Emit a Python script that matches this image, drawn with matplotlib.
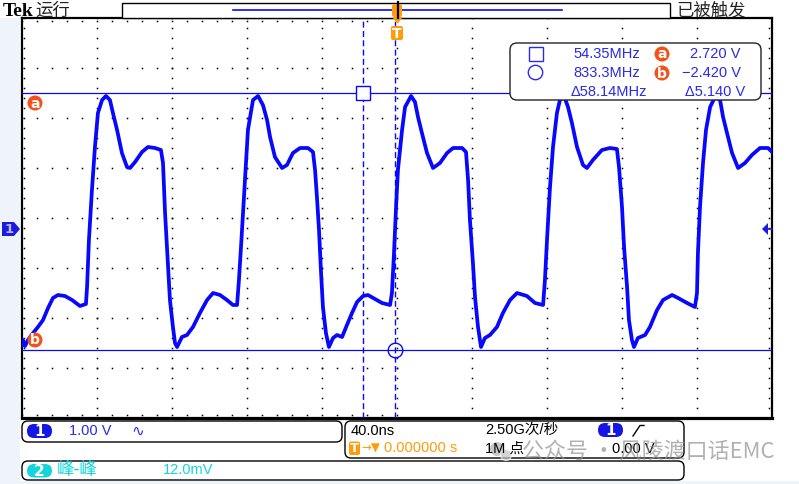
import matplotlib.pyplot as plt
from matplotlib.patches import FancyBboxPatch, Rectangle, Circle, Polygon

plt.rcParams['font.family'] = ['DejaVu Sans', 'Noto Sans CJK SC']

# waveform: time in ns (trigger at 0), level in volts
time_ns = [-200.0, -199.5, -198.4, -196.8, -194.1, -191.5, -188.8, -186.1, -183.5, -180.8,
           -177.1, -173.3, -169.1, -165.9, -165.3, -164.3, -162.7, -161.1, -159.5, -157.3,
           -155.2, -153.1, -151.5, -149.3, -146.7, -144.0, -142.4, -139.7, -136.0, -132.8,
           -129.1, -125.9, -124.8, -123.7, -122.1, -121.1, -119.5, -118.4, -117.3, -114.7,
           -112.0, -108.8, -105.1, -101.3, -98.1, -94.4, -90.7, -87.5, -85.3, -84.3,
           -83.2, -81.1, -79.5, -76.8, -74.1, -71.5, -69.3, -67.7, -65.1, -61.3,
           -58.7, -55.5, -51.7, -47.5, -44.8, -43.7, -42.7, -41.6, -40.5, -39.5,
           -37.9, -36.3, -34.1, -32.0, -29.3, -26.7, -24.0, -21.3, -18.1, -15.5,
           -11.7, -8.0, -3.7, -2.7, -1.6, -0.5, 0.5, 2.7, 4.3, 7.5,
           9.6, 11.2, 13.3, 16.0, 19.2, 22.9, 26.7, 29.9, 34.7, 36.8,
           37.9, 38.9, 40.5, 41.6, 43.2, 44.8, 46.9, 49.6, 53.3, 56.5,
           60.3, 64.0, 69.3, 73.6, 77.9, 78.9, 80.0, 81.6, 83.2, 85.3,
           86.9, 89.1, 91.2, 93.3, 96.0, 99.2, 101.3, 104.5, 109.3, 113.6,
           117.3, 118.4, 120.0, 121.1, 122.7, 123.7, 125.3, 126.4, 128.5, 132.3,
           134.9, 138.7, 141.9, 146.7, 149.9, 154.7, 158.9, 160.0, 160.5, 161.6,
           163.2, 164.8, 167.0, 169.6, 172.3, 173.9, 176.0, 178.7, 181.9, 185.6,
           189.3, 193.6, 197.9, 200.0]
volts = [-2.32, -2.22, -2.34, -2.22, -2.08, -1.96, -1.82, -1.58, -1.38, -1.32,
         -1.34, -1.42, -1.54, -1.50, -1.16, -0.22, 0.78, 1.64, 2.32, 2.58,
         2.66, 2.58, 2.32, 1.98, 1.52, 1.24, 1.22, 1.34, 1.54, 1.64,
         1.62, 1.58, 1.32, 0.32, -0.76, -1.42, -1.96, -2.28, -2.36, -2.16,
         -2.12, -1.96, -1.68, -1.42, -1.28, -1.32, -1.42, -1.52, -1.52, -1.02,
         -0.36, 0.98, 1.98, 2.58, 2.66, 2.48, 2.18, 1.84, 1.44, 1.22,
         1.28, 1.52, 1.62, 1.62, 1.54, 1.18, 0.64, -0.02, -0.88, -1.56,
         -2.08, -2.36, -2.18, -2.12, -2.16, -1.92, -1.68, -1.46, -1.34, -1.32,
         -1.40, -1.48, -1.52, -1.28, -0.48, 0.44, 1.18, 1.98, 2.44, 2.66,
         2.54, 2.24, 1.92, 1.52, 1.22, 1.32, 1.52, 1.62, 1.62, 1.54,
         0.98, 0.18, -0.68, -1.36, -1.96, -2.36, -2.18, -2.12, -1.96, -1.68,
         -1.42, -1.28, -1.34, -1.48, -1.52, -1.02, -0.22, 0.84, 1.64, 2.32,
         2.58, 2.66, 2.44, 2.12, 1.64, 1.28, 1.22, 1.38, 1.58, 1.62,
         1.60, 1.24, 0.44, -0.36, -1.16, -1.82, -2.22, -2.36, -2.18, -2.12,
         -1.96, -1.62, -1.42, -1.32, -1.38, -1.48, -1.56, -1.28, -0.48, 0.44,
         1.32, 1.98, 2.44, 2.64, 2.58, 2.24, 1.92, 1.52, 1.22, 1.32,
         1.48, 1.62, 1.62, 1.54]

# cursors
cursor_a = 2.72
cursor_b = -2.42
cursor_sq = -18.4
cursor_ci = -1.2

# screen settings
ns_div = 40.0
v_div = 1.0
offset_div = -0.22   # channel 1 ground marker sits 0.22 div below centre

meas_freq = ['54.35MHz', '833.3MHz', 'Δ58.14MHz']
meas_volt = ['2.720 V', '−2.420 V', 'Δ5.140 V']

BLUE = '#0808ff'
TXT_BLUE = '#2a2ae8'
CYAN = '#12d6dc'
ORANGE = '#ff9c0a'
RED_O = '#f2521a'
NARROW = ['Liberation Sans', 'DejaVu Sans', 'Noto Sans CJK SC']
CJK = ['Noto Sans CJK SC', 'DejaVu Sans']

W, H = 799, 484


def px_rect(x0, y0, x1, y1):
    return [x0 / W, 1 - y1 / H, (x1 - x0) / W, (y1 - y0) / H]


fig = plt.figure(figsize=(W / 100, H / 100), dpi=100)
fig.patch.set_facecolor('white')

bg = fig.add_axes([0, 0, 1, 1], zorder=0)
bg.set_xlim(0, W)
bg.set_ylim(H, 0)
bg.axis('off')
bg.add_patch(Rectangle((0, 18), 20, H - 18, fc='#eff4fa', ec='none'))
bg.add_patch(Rectangle((0, 481), W, 3, fc='#eff4fa', ec='none'))

# ---- graticule / waveform ----
ax = fig.add_axes(px_rect(22, 18, 772, 418), zorder=1)
xmin, xmax = -5 * ns_div, 5 * ns_div
ymin = (-4 - offset_div) * v_div
ymax = (4 - offset_div) * v_div
ax.set_xlim(xmin, xmax)
ax.set_ylim(ymin, ymax)
ax.set_xticks([])
ax.set_yticks([])
for s in ax.spines.values():
    s.set_linewidth(1.6)
ax.spines['bottom'].set_linewidth(2.3)

sub_x = ns_div / 5
sub_y = v_div / 5
xs_sub = [xmin + i * sub_x for i in range(26)]
ys_sub = [ymin + j * sub_y for j in range(41)]
for k in range(1, 10):
    gx = xmin + k * ns_div
    ax.plot([gx] * len(ys_sub), ys_sub, ls='none', marker='s', ms=1.1, mew=0, color='black')
for k in range(1, 8):
    gy = ymin + k * v_div
    ax.plot(xs_sub, [gy] * len(xs_sub), ls='none', marker='s', ms=1.1, mew=0, color='black')
# border ticks
ax.plot(xs_sub, [ymax - 0.06] * len(xs_sub), ls='none', marker='s', ms=1.1, mew=0, color='black')
ax.plot(xs_sub, [ymin + 0.06] * len(xs_sub), ls='none', marker='s', ms=1.1, mew=0, color='black')
ax.plot([xmin + 1.2] * len(ys_sub), ys_sub, ls='none', marker='s', ms=1.1, mew=0, color='black')
ax.plot([xmax - 1.5] * len(ys_sub), ys_sub, ls='none', marker='s', ms=1.1, mew=0, color='black')

ax.plot(time_ns, volts, color=BLUE, lw=2.7, solid_joinstyle='round', zorder=4)

ax.axhline(cursor_a, color=BLUE, lw=0.9, zorder=3)
ax.axhline(cursor_b, color=BLUE, lw=0.9, zorder=3)
ax.axvline(cursor_sq, color=BLUE, lw=1.0, dashes=(4.3, 2.4), zorder=3)
ax.axvline(cursor_ci, color=BLUE, lw=1.0, dashes=(4.3, 2.4), zorder=3)
ax.plot([cursor_sq], [cursor_a], marker='s', ms=10.5, mfc='white', mec=BLUE, mew=1.0, zorder=5)
ax.plot([cursor_ci], [cursor_b], marker='o', ms=10.5, mfc='none', mec=BLUE, mew=1.0, zorder=5)

# ---- foreground annotations in pixel space ----
fg = fig.add_axes([0, 0, 1, 1], zorder=2)
fg.set_xlim(0, W)
fg.set_ylim(H, 0)
fg.axis('off')
fg.patch.set_alpha(0)


def badge(x, y, letter, r=7.5):
    fg.add_patch(Circle((x, y), r, fc=RED_O, ec='none'))
    fg.text(x, y + 0.5, letter, color='white', ha='center', va='center',
            fontsize=10, fontweight='bold')


def pill(x, y, w, h, color, label):
    fg.add_patch(FancyBboxPatch((x, y), w, h, boxstyle='round,pad=0,rounding_size=7',
                                fc=color, ec='none'))
    fg.text(x + w / 2, y + h / 2 + 0.5, label, color='white', ha='center', va='center',
            fontsize=11, fontweight='bold')


badge(35, 103, 'a')
badge(35, 340, 'b')

# header
fg.text(3, 11, 'Tek', family=['Liberation Serif', 'DejaVu Serif'], fontweight='bold',
        fontsize=14, va='center', ha='left', color='black')
fg.text(35, 10.5, '运行', family=CJK, fontsize=12.5, va='center', ha='left', color='#222222')
fg.text(676, 10.5, '已被触发', family=CJK, fontsize=12.5, va='center', ha='left', color='#222222')
fg.add_patch(Rectangle((122, 3), 548, 14.5, fc='white', ec='black', lw=1.0))
fg.plot([233, 562], [9.5, 9.5], color=BLUE, lw=1.2)
fg.add_patch(FancyBboxPatch((392, 4), 10, 13, boxstyle='round,pad=0,rounding_size=2.5',
                            fc=ORANGE, ec='none', zorder=3))
fg.plot([397.5, 397.5], [2, 18], color='black', lw=1.6, zorder=4)
fg.add_patch(Polygon([[392, 17], [403, 17], [397.5, 23.5]], closed=True, fc=ORANGE,
                     ec='none', zorder=3))
fg.add_patch(FancyBboxPatch((391, 26), 12, 14, boxstyle='round,pad=0,rounding_size=2',
                            fc=ORANGE, ec='none'))
fg.text(397, 33.5, 'T', color='white', fontsize=10, fontweight='bold', ha='center', va='center')

# channel markers
fg.add_patch(Polygon([[2, 222], [14, 222], [20, 229], [14, 236], [2, 236]], closed=True,
                     fc='#1a1ae0', ec='none'))
fg.text(9, 229.5, '1', color='#b8b8d8', fontsize=9.5, ha='center', va='center', fontweight='bold')
fg.add_patch(Polygon([[762, 229], [768, 223], [768, 235]], closed=True, fc='#1a1ae0', ec='none'))
fg.plot([767, 772], [229, 229], color='#1a1ae0', lw=1.2)

# measurement readout
fg.add_patch(FancyBboxPatch((510, 43), 251, 57, boxstyle='round,pad=0,rounding_size=7',
                            fc='white', ec='#222222', lw=1.0))
fg.add_patch(Rectangle((528.5, 46.5), 14, 14, fc='none', ec=TXT_BLUE, lw=1.0))
fg.add_patch(Circle((535.5, 72.5), 7.2, fc='none', ec=TXT_BLUE, lw=1.0))
rows = [54, 73, 92]
for i, yy in enumerate(rows):
    fx = 647 if i == 2 else 640
    vx = 745 if i == 2 else 741
    fg.text(fx, yy, meas_freq[i], family=NARROW, fontsize=10.5, color=TXT_BLUE,
            ha='right', va='center')
    fg.text(vx, yy, meas_volt[i], family=NARROW, fontsize=10.5, color=TXT_BLUE,
            ha='right', va='center')
badge(662, 54, 'a')
badge(662, 73, 'b')

# status bar
fg.add_patch(FancyBboxPatch((22, 421), 320, 21, boxstyle='round,pad=0,rounding_size=6',
                            fc='white', ec='black', lw=1.0))
fg.add_patch(FancyBboxPatch((345, 421), 339, 37, boxstyle='round,pad=0,rounding_size=6',
                            fc='white', ec='black', lw=1.0))
fg.add_patch(FancyBboxPatch((22, 461), 662, 19, boxstyle='round,pad=0,rounding_size=6',
                            fc='white', ec='black', lw=1.0))

pill(27, 424, 25, 14, '#1515e6', '1')
fg.text(69, 431, '1.00 V', family=NARROW, fontsize=10.5, color=TXT_BLUE, ha='left', va='center')
fg.text(131, 431, '∿', fontsize=11, color=TXT_BLUE, ha='left', va='center')

fg.text(351, 431, '40.0ns', family=NARROW, fontsize=10.5, color='black', ha='left', va='center')
fg.add_patch(FancyBboxPatch((349, 441.5), 11, 13.5, boxstyle='round,pad=0,rounding_size=2',
                            fc=ORANGE, ec='none'))
fg.text(354.5, 448.5, 'T', color='white', fontsize=9.5, fontweight='bold', ha='center', va='center')
fg.text(361, 448, '→▼', fontsize=8.5, color=ORANGE, ha='left', va='center')
fg.text(384, 448.5, '0.000000 s', family=NARROW, fontsize=10.5, color=ORANGE, ha='left', va='center')

fg.text(485, 430, '2.50G次/秒', family=NARROW, fontsize=10.5, color='black', ha='left', va='center')
fg.text(485, 449, '1M 点', family=NARROW, fontsize=10.5, color='black', ha='left', va='center')
pill(598, 423, 25, 14, '#1515e6', '1')
fg.plot([633, 640, 644], [436, 425.5, 425.5], color='black', lw=1.0)
fg.text(612, 449, '0.00 V', family=NARROW, fontsize=10.5, color='black', ha='left', va='center')

pill(27, 464, 25, 13.5, CYAN, '2')
fg.text(57, 470.5, '峰-峰', family=CJK, fontsize=12.5, color=CYAN, ha='left', va='center')
fg.text(163, 470.5, '12.0mV', family=NARROW, fontsize=10.5, color=CYAN, ha='left', va='center')

# watermark
fg.add_patch(Circle((497, 449), 7, fc='#b0b0b0', ec='none', alpha=0.7))
fg.add_patch(Circle((506, 455), 5.5, fc='#c4c4c4', ec='white', lw=0.8, alpha=0.7))
fg.text(522, 452, '公众号 · 风陵渡口话EMC', family=CJK, fontsize=15.8, color='#909090',
        alpha=0.7, ha='left', va='center')

fig.savefig('out.png', dpi=100, facecolor=fig.get_facecolor())
